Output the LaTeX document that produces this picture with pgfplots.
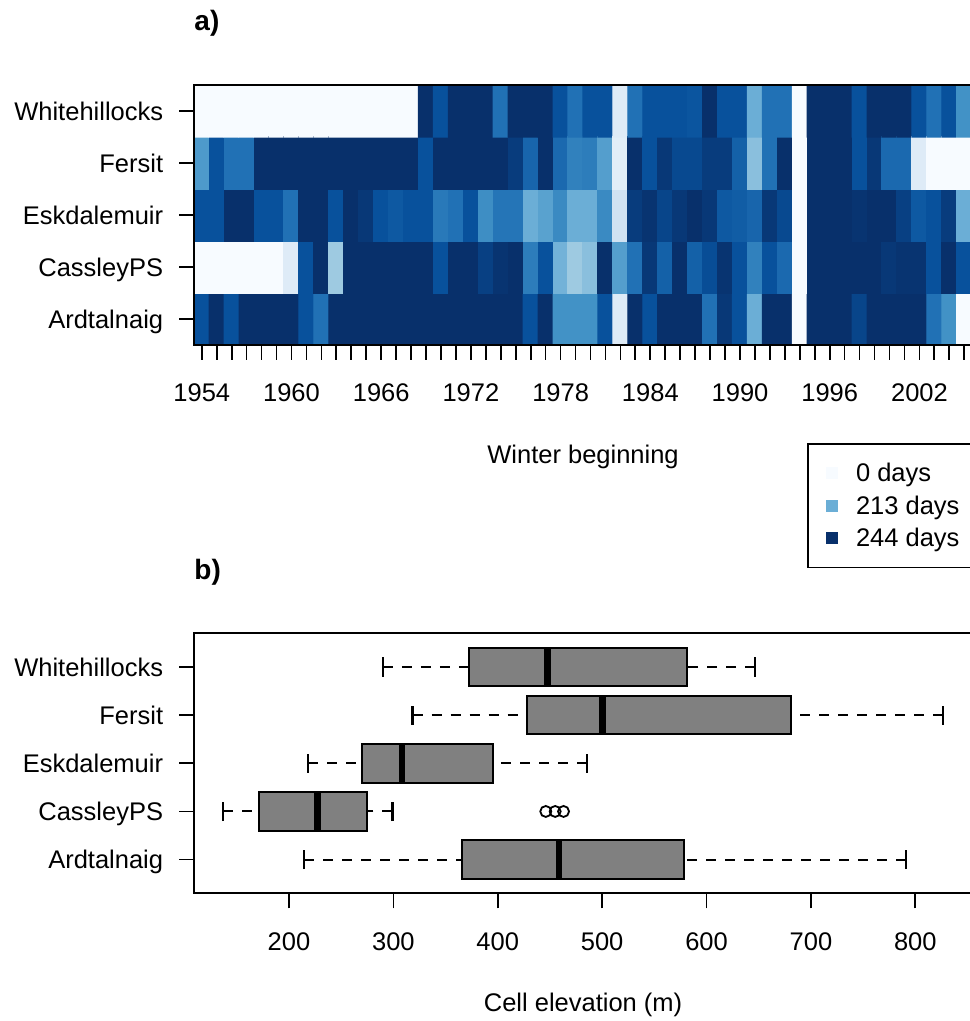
\documentclass[border=0pt]{standalone}
\usepackage{pgfplots}
\pgfplotsset{compat=1.18}
\usepackage{pgfplotstable}
\usepgfplotslibrary{statistics}
\usepackage{fontspec}
\setmainfont{Liberation Sans}
\newcommand\fs{\fontsize{25.5pt}{30pt}\selectfont}
\newcommand\fst{\fontsize{28pt}{32pt}\selectfont}
\definecolor{hbA}{HTML}{F7FBFF}
\definecolor{hbB}{HTML}{6BAED6}
\definecolor{hbC}{HTML}{08306B}
\definecolor{boxgray}{HTML}{808080}

% x = winter beginning, y = station (1 Ardtalnaig ... 5 Whitehillocks), z = days
\pgfplotstableread[row sep=\\]{
x y z\\
1954 1 236\\ 1955 1 244\\ 1956 1 236\\ 1957 1 244\\ 1958 1 244\\ 1959 1 244\\ 1960 1 244\\ 1961 1 236\\ 1962 1 228\\ 1963 1 244\\
1964 1 244\\ 1965 1 244\\ 1966 1 244\\ 1967 1 244\\ 1968 1 244\\ 1969 1 244\\ 1970 1 244\\ 1971 1 244\\ 1972 1 244\\ 1973 1 244\\
1974 1 244\\ 1975 1 244\\ 1976 1 236\\ 1977 1 244\\ 1978 1 220\\ 1979 1 220\\ 1980 1 220\\ 1981 1 236\\ 1982 1 120\\ 1983 1 244\\
1984 1 236\\ 1985 1 244\\ 1986 1 244\\ 1987 1 244\\ 1988 1 228\\ 1989 1 242\\ 1990 1 236\\ 1991 1 213\\ 1992 1 244\\ 1993 1 244\\
1994 1 0\\ 1995 1 244\\ 1996 1 244\\ 1997 1 244\\ 1998 1 239\\ 1999 1 244\\ 2000 1 244\\ 2001 1 244\\ 2002 1 244\\ 2003 1 228\\
2004 1 220\\ 2005 1 0\\
1954 2 0\\ 1955 2 0\\ 1956 2 0\\ 1957 2 0\\ 1958 2 0\\ 1959 2 0\\ 1960 2 120\\ 1961 2 236\\ 1962 2 244\\ 1963 2 200\\
1964 2 244\\ 1965 2 244\\ 1966 2 244\\ 1967 2 244\\ 1968 2 244\\ 1969 2 244\\ 1970 2 236\\ 1971 2 244\\ 1972 2 244\\ 1973 2 240\\
1974 2 243\\ 1975 2 244\\ 1976 2 225\\ 1977 2 236\\ 1978 2 211\\ 1979 2 200\\ 1980 2 205\\ 1981 2 244\\ 1982 2 217\\ 1983 2 228\\
1984 2 242\\ 1985 2 232\\ 1986 2 244\\ 1987 2 232\\ 1988 2 237\\ 1989 2 243\\ 1990 2 236\\ 1991 2 224\\ 1992 2 236\\ 1993 2 230\\
1994 2 0\\ 1995 2 244\\ 1996 2 244\\ 1997 2 244\\ 1998 2 244\\ 1999 2 244\\ 2000 2 242\\ 2001 2 243\\ 2002 2 243\\ 2003 2 236\\
2004 2 244\\ 2005 2 236\\
1954 3 236\\ 1955 3 236\\ 1956 3 244\\ 1957 3 244\\ 1958 3 236\\ 1959 3 236\\ 1960 3 228\\ 1961 3 244\\ 1962 3 244\\ 1963 3 236\\
1964 3 244\\ 1965 3 242\\ 1966 3 236\\ 1967 3 234\\ 1968 3 236\\ 1969 3 236\\ 1970 3 226\\ 1971 3 228\\ 1972 3 236\\ 1973 3 221\\
1974 3 227\\ 1975 3 227\\ 1976 3 213\\ 1977 3 216\\ 1978 3 222\\ 1979 3 213\\ 1980 3 213\\ 1981 3 222\\ 1982 3 146\\ 1983 3 241\\
1984 3 243\\ 1985 3 239\\ 1986 3 242\\ 1987 3 244\\ 1988 3 242\\ 1989 3 234\\ 1990 3 233\\ 1991 3 231\\ 1992 3 242\\ 1993 3 238\\
1994 3 0\\ 1995 3 244\\ 1996 3 244\\ 1997 3 244\\ 1998 3 243\\ 1999 3 244\\ 2000 3 244\\ 2001 3 240\\ 2002 3 234\\ 2003 3 236\\
2004 3 241\\ 2005 3 213\\
1954 4 218\\ 1955 4 236\\ 1956 4 228\\ 1957 4 228\\ 1958 4 244\\ 1959 4 244\\ 1960 4 244\\ 1961 4 244\\ 1962 4 244\\ 1963 4 244\\
1964 4 244\\ 1965 4 244\\ 1966 4 244\\ 1967 4 244\\ 1968 4 244\\ 1969 4 236\\ 1970 4 244\\ 1971 4 244\\ 1972 4 244\\ 1973 4 244\\
1974 4 244\\ 1975 4 241\\ 1976 4 231\\ 1977 4 244\\ 1978 4 230\\ 1979 4 224\\ 1980 4 225\\ 1981 4 217\\ 1982 4 100\\ 1983 4 244\\
1984 4 236\\ 1985 4 242\\ 1986 4 238\\ 1987 4 238\\ 1988 4 241\\ 1989 4 241\\ 1990 4 232\\ 1991 4 205\\ 1992 4 228\\ 1993 4 244\\
1994 4 0\\ 1995 4 244\\ 1996 4 244\\ 1997 4 244\\ 1998 4 236\\ 1999 4 242\\ 2000 4 230\\ 2001 4 230\\ 2002 4 120\\ 2003 4 0\\
2004 4 0\\ 2005 4 0\\
1954 5 0\\ 1955 5 0\\ 1956 5 0\\ 1957 5 0\\ 1958 5 0\\ 1959 5 0\\ 1960 5 0\\ 1961 5 0\\ 1962 5 0\\ 1963 5 0\\
1964 5 0\\ 1965 5 0\\ 1966 5 0\\ 1967 5 0\\ 1968 5 0\\ 1969 5 244\\ 1970 5 236\\ 1971 5 244\\ 1972 5 244\\ 1973 5 244\\
1974 5 228\\ 1975 5 244\\ 1976 5 244\\ 1977 5 244\\ 1978 5 236\\ 1979 5 228\\ 1980 5 236\\ 1981 5 236\\ 1982 5 120\\ 1983 5 228\\
1984 5 236\\ 1985 5 236\\ 1986 5 236\\ 1987 5 235\\ 1988 5 244\\ 1989 5 236\\ 1990 5 236\\ 1991 5 213\\ 1992 5 228\\ 1993 5 228\\
1994 5 0\\ 1995 5 244\\ 1996 5 244\\ 1997 5 244\\ 1998 5 236\\ 1999 5 244\\ 2000 5 244\\ 2001 5 244\\ 2002 5 236\\ 2003 5 228\\
2004 5 236\\ 2005 5 220\\
}\heat

\pgfplotsset{
  common/.style={
    scale only axis, width=777.5pt, height=260pt,
    axis line style={line width=1.7pt},
    every tick/.style={line width=1.7pt, black},
    tick align=outside, major tick length=15pt, minor tick length=15pt,
    xtick pos=left, ytick pos=left,
    /pgf/number format/assume math mode=true,
    /pgf/number format/set thousands separator={},
    ticklabel style={font=\fs},
    xticklabel style={anchor=base, inner sep=0pt, yshift=-42pt},
    yticklabel style={anchor=base east, inner sep=0pt, xshift=-16pt, yshift=-9.1pt},
    ytick={1,...,5},
    yticklabels={Ardtalnaig,CassleyPS,Eskdalemuir,Fersit,Whitehillocks},
    label style={font=\fs},
    xlabel style={at={(axis description cs:0.5,-0.455)}, anchor=base, inner sep=0pt},
    title style={at={(axis description cs:0,1)}, anchor=base west, yshift=48pt, inner sep=0pt, font=\fst},
  },
  legimg/.style={legend image code/.code={
    \path[draw=none, fill=none] (0pt,-6pt) rectangle (48pt,6pt);
    \fill[#1, draw=none] (18pt,-6pt) rectangle (30pt,6pt);}},
}

\begin{document}
\begin{tikzpicture}[x=1pt,y=1pt]
\path[use as bounding box] (0,0) rectangle (970,1021);

% ---------- a) heatmap ----------
\begin{axis}[common,
  at={(194.3pt,676pt)}, anchor=south west,
  axis on top,
  xmin=1953.5, xmax=2005.5, ymin=0.5, ymax=5.5,
  enlargelimits=false,
  xtick={1954,1960,...,2002}, minor xtick={1954,...,2005},
  xlabel={Winter beginning},
  title={\bfseries a)},
  colormap={hblues}{rgb255(0pt)=(247,251,255); rgb255(120pt)=(222,235,247); rgb255(165pt)=(198,219,239); rgb255(200pt)=(158,202,225); rgb255(213pt)=(107,174,214); rgb255(220pt)=(66,146,198); rgb255(228pt)=(33,113,181); rgb255(236pt)=(8,81,156); rgb255(244pt)=(8,48,107)},
  point meta min=0, point meta max=244,
  legend style={at={(0.7884,-0.378)}, anchor=north west, draw=black, line width=1.5pt,
    inner xsep=0pt, inner ysep=13pt, row sep=0pt, column sep=0pt,
    nodes={inner sep=0pt, minimum height=32.5pt, font=\fs}},
  legend cell align=left,
]
\addplot[matrix plot*, shader=faceted, faceted color=mapped color, line width=1.2pt,
  mesh/cols=52, mesh/rows=5, point meta=explicit, forget plot]
  table[x=x, y=y, meta=z] {\heat};
\addlegendimage{legimg=hbA}
\addlegendentry{\makebox[125pt][l]{0 days}}
\addlegendimage{legimg=hbB}
\addlegendentry{\makebox[125pt][l]{213 days}}
\addlegendimage{legimg=hbC}
\addlegendentry{\makebox[125pt][l]{244 days}}
\end{axis}

% ---------- b) boxplots ----------
\begin{axis}[common,
  at={(194.3pt,127.7pt)}, anchor=south west,
  xmin=109.3, xmax=854.1, ymin=0.3, ymax=5.7,
  xtick={200,300,...,800},
  xlabel={Cell elevation (m)},
  title={\bfseries b)},
  boxplot/draw direction=x,
  boxplot/every box/.style={fill=boxgray, draw=black, line width=2pt},
  boxplot/every median/.style={draw=black, line width=6.5pt},
  boxplot/draw/lower whisker/.code={
    \draw[black, line width=2pt, dash pattern=on 10pt off 9pt]
      (boxplot box cs:\pgfplotsboxplotvalue{lower whisker},0.5) --
      (boxplot box cs:\pgfplotsboxplotvalue{lower quartile},0.5);
    \draw[black, line width=2.4pt]
      (boxplot whisker cs:\pgfplotsboxplotvalue{lower whisker},0) --
      (boxplot whisker cs:\pgfplotsboxplotvalue{lower whisker},1);
  },
  boxplot/draw/upper whisker/.code={
    \draw[black, line width=2pt, dash pattern=on 10pt off 9pt]
      (boxplot box cs:\pgfplotsboxplotvalue{upper whisker},0.5) --
      (boxplot box cs:\pgfplotsboxplotvalue{upper quartile},0.5);
    \draw[black, line width=2.4pt]
      (boxplot whisker cs:\pgfplotsboxplotvalue{upper whisker},0) --
      (boxplot whisker cs:\pgfplotsboxplotvalue{upper whisker},1);
  },
]
\addplot[black, solid, mark=o, mark size=5.5pt, mark options={solid, black, line width=1.8pt},
  boxplot prepared={draw position=1, lower whisker=214.4, lower quartile=366, median=458.7,
    upper quartile=578.5, upper whisker=791, box extend=0.8, whisker extend=0.4}] coordinates {};
\addplot[black, solid, mark=o, mark size=5.5pt, mark options={solid, black, line width=1.8pt},
  boxplot prepared={draw position=2, lower whisker=137, lower quartile=171.5, median=227.1,
    upper quartile=275, upper whisker=299, box extend=0.8, whisker extend=0.4}]
  table[row sep=\\, y index=0] {data\\ 446\\ 455\\ 463\\};
\addplot[black, solid, mark=o, mark size=5.5pt, mark options={solid, black, line width=1.8pt},
  boxplot prepared={draw position=3, lower whisker=218.5, lower quartile=270, median=308.3,
    upper quartile=395.2, upper whisker=485.3, box extend=0.8, whisker extend=0.4}] coordinates {};
\addplot[black, solid, mark=o, mark size=5.5pt, mark options={solid, black, line width=1.8pt},
  boxplot prepared={draw position=4, lower whisker=318.5, lower quartile=427.8, median=500.3,
    upper quartile=680.8, upper whisker=826.4, box extend=0.8, whisker extend=0.4}] coordinates {};
\addplot[black, solid, mark=o, mark size=5.5pt, mark options={solid, black, line width=1.8pt},
  boxplot prepared={draw position=5, lower whisker=290, lower quartile=372, median=447.6,
    upper quartile=581.7, upper whisker=646.6, box extend=0.8, whisker extend=0.4}] coordinates {};
\end{axis}
\end{tikzpicture}
\end{document}
